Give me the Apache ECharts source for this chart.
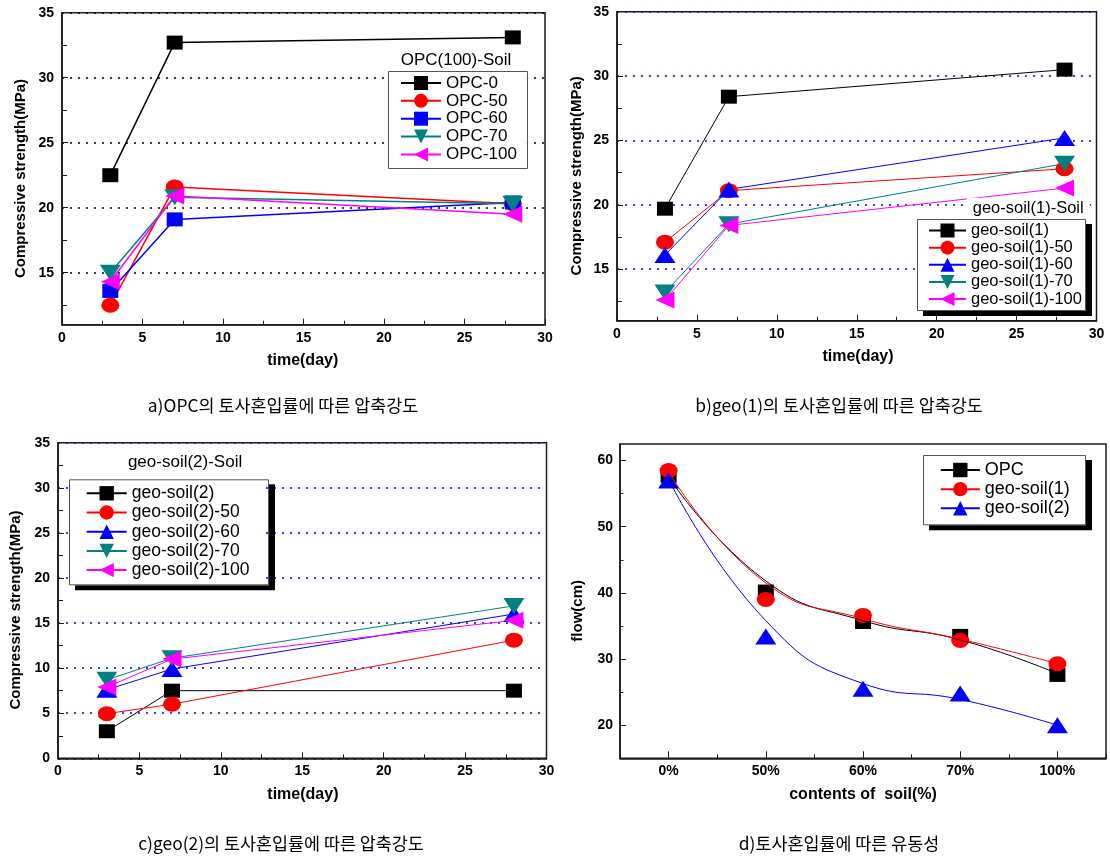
<!DOCTYPE html>
<html><head><meta charset="utf-8">
<script src="https://cdn.jsdelivr.net/npm/echarts@6/dist/echarts.min.js"></script>
<style>html,body{margin:0;padding:0;background:#fff}#c{width:1110px;height:860px}</style>
</head><body><div id="c"></div>
<script>
// ---------- data ----------
const timeDays = [3, 7, 28];
const opcNames = ['OPC-0', 'OPC-50', 'OPC-60', 'OPC-70', 'OPC-100'];
const opc0 = [22.5, 32.7, 33.1];
const opc50 = [12.5, 21.6, 20.3];
const opc60 = [13.6, 19.1, 20.4];
const opc70 = [15.0, 20.8, 20.3];
const opc100 = [14.3, 20.9, 19.5];
const geo1Names = ['geo-soil(1)', 'geo-soil(1)-50', 'geo-soil(1)-60', 'geo-soil(1)-70', 'geo-soil(1)-100'];
const geo1_0 = [19.7, 28.4, 30.5];
const geo1_50 = [17.1, 21.1, 22.8];
const geo1_60 = [16.1, 21.2, 25.2];
const geo1_70 = [13.2, 18.5, 23.2];
const geo1_100 = [12.6, 18.4, 21.3];
const geo2Names = ['geo-soil(2)', 'geo-soil(2)-50', 'geo-soil(2)-60', 'geo-soil(2)-70', 'geo-soil(2)-100'];
const geo2_0 = [3.0, 7.5, 7.5];
const geo2_50 = [4.95, 6.0, 13.1];
const geo2_60 = [7.6, 9.9, 16.0];
const geo2_70 = [8.7, 11.1, 16.9];
const geo2_100 = [7.9, 11.0, 15.3];
const soilContents = ['0%', '50%', '60%', '70%', '100%'];
const flowNames = ['OPC', 'geo-soil(1) ', 'geo-soil(2) '];
const flowOPC = [57.7, 40.2, 35.6, 33.5, 27.6];
const flowGeo1 = [58.5, 39.0, 36.6, 32.8, 29.3];
const flowGeo2 = [57.0, 33.4, 25.5, 24.8, 20.0];
const fitOPC = [57.5, 41.8, 35.8, 32.9, 27.8];
const fitGeo1 = [58.3, 41.5, 36.1, 33.0, 29.3];
const fitGeo2 = [57.2, 35.8, 26.3, 23.9, 20.0];
const timeTicks = [0, 30, 5];
const strengthLabels = [15, 20, 25, 30, 35];
const strengthMinor = [12.5, 17.5, 22.5, 27.5, 32.5];
const flowLabels = [20, 30, 40, 50, 60];
const flowMinor = [25, 35, 45, 55];

// ---------- styles ----------
const FONT = '"Liberation Sans", Arial, sans-serif';
const KFONT = '"Noto Sans CJK KR", sans-serif';
const AX = '#1a1a1a';
const COLORS = ['#000000', '#ff0000', '#0000ff', '#008080', '#ff00ff'];
const SQ = { symbol: 'rect', size: [16, 14], rot: 0 };
const CI = { symbol: 'circle', size: [18, 15], rot: 0 };
const TU = { symbol: 'triangle', size: [21, 16], rot: 0 };
const TD = { symbol: 'triangle', size: [21, 16], rot: 180 };
const TL = { symbol: 'triangle', size: [17, 19], rot: 90 };
const symA = [SQ, CI, SQ, TD, TL];
const symBC = [SQ, CI, TU, TD, TL];

function lineSeries(name, vals, i, sym, xi, yi, w) {
  return {
    type: 'line', name: name, xAxisIndex: xi, yAxisIndex: yi,
    data: timeDays.map((d, k) => [d, vals[k]]),
    symbol: sym.symbol, symbolSize: sym.size, symbolRotate: sym.rot, showSymbol: true,
    lineStyle: { color: COLORS[i], width: w }, itemStyle: { color: COLORS[i] },
    emphasis: { disabled: true }, animation: false
  };
}

function timeAxis(g) {
  return {
    type: 'value', gridIndex: g, min: timeTicks[0], max: timeTicks[1], interval: timeTicks[2],
    axisLine: { show: true, onZero: false, lineStyle: { color: AX, width: 1.5 } },
    axisTick: { show: true, inside: true, length: 6, lineStyle: { color: AX, width: 1 } },
    minorTick: { show: true, splitNumber: 2, length: 4, lineStyle: { color: AX, width: 1 } },
    axisLabel: { fontFamily: FONT, fontWeight: 'bold', fontSize: 14, color: '#000', margin: 6 },
    splitLine: { show: false }
  };
}
function strengthAxis(g, gridColor) {
  return {
    type: 'value', gridIndex: g, min: 11, max: 35, splitNumber: 5,
    axisLine: { show: true, onZero: false, lineStyle: { color: AX, width: 1.5 } },
    axisTick: { show: true, inside: true, length: 6, customValues: strengthLabels, lineStyle: { color: AX, width: 1 } },
    axisLabel: { customValues: strengthLabels, fontFamily: FONT, fontWeight: 'bold', fontSize: 14, color: '#000', margin: 8 },
    splitLine: { show: true, lineStyle: { color: gridColor, type: [2, 6], width: 1.5 } }
  };
}
function minorY(g, min, max, vals, width, len) {
  return {
    type: 'value', gridIndex: g, min: min, max: max, position: 'right', offset: -width,
    axisLine: { show: false, onZero: false },
    axisTick: { show: true, inside: false, length: len, customValues: vals, lineStyle: { color: AX, width: 1 } },
    axisLabel: { show: false }, splitLine: { show: false }
  };
}
function legendBox(names, left, top, pad, iw, ih, fs, gap) {
  return {
    orient: 'vertical', left: left, top: top, padding: pad, itemWidth: iw, itemHeight: ih, itemGap: gap,
    data: names, selectedMode: false, backgroundColor: '#fff', borderWidth: 0, z: 4,
    textStyle: { fontFamily: FONT, fontSize: fs, color: '#000' },
    formatter: n => n.trim()
  };
}
// grey frame of a legend box
function frame(key, x, y, w, h) {
  return { type: 'rect', id: 'frame' + key, z: 50, shape: { x: x + 0.5, y: y + 0.5, width: w, height: h }, style: { fill: 'none', stroke: '#555', lineWidth: 1 } };
}
// solid black drop shadow strips on the right and bottom of a legend box
function strips(key, x, y, w, h, zz) {
  return [
    { type: 'line', id: 'sr' + key, z: zz, shape: { x1: x + w + 4, y1: y + 5, x2: x + w + 4, y2: y + h + 5.5 }, style: { stroke: '#000', lineWidth: 6 } },
    { type: 'line', id: 'sb' + key, z: zz, shape: { x1: x + 6, y1: y + h + 3.5, x2: x + w + 7, y2: y + h + 3.5 }, style: { stroke: '#000', lineWidth: 5 } }
  ];
}
function txt(s, x, y, font, rot, extra) {
  const st = Object.assign({ text: s, font: font, fill: '#000', align: 'center', verticalAlign: 'middle', textAlign: 'center', textVerticalAlign: 'middle' }, extra || {});
  return { type: 'text', x: x, y: y, rotation: rot || 0, z: 100, style: st };
}
const BOLD15 = 'bold 15px ' + FONT;
const BOLD16 = 'bold 16px ' + FONT;
const CAP = '17.4px ' + KFONT;

const gridBase = { show: true, borderColor: AX, borderWidth: 1.5, backgroundColor: 'transparent', containLabel: false, outerBoundsMode: 'none' };

const series = [];
[opc0, opc50, opc60, opc70, opc100].forEach((v, i) => series.push(lineSeries(opcNames[i], v, i, symA[i], 0, 0, 1.5)));
[geo1_0, geo1_50, geo1_60, geo1_70, geo1_100].forEach((v, i) => series.push(lineSeries(geo1Names[i], v, i, symBC[i], 1, 2, 1)));
[geo2_0, geo2_50, geo2_60, geo2_70, geo2_100].forEach((v, i) => series.push(lineSeries(geo2Names[i], v, i, symBC[i], 2, 4, 1)));
const flowSym = [SQ, CI, TU];
const flowCol = [COLORS[0], COLORS[1], COLORS[2]];
[fitOPC, fitGeo1, fitGeo2].forEach((v, i) => series.push({
  type: 'line', name: flowNames[i], xAxisIndex: 3, yAxisIndex: 5, data: v, smooth: 0.5,
  symbol: flowSym[i].symbol, symbolSize: flowSym[i].size, showSymbol: false,
  lineStyle: { color: flowCol[i], width: 1 }, itemStyle: { color: flowCol[i] },
  emphasis: { disabled: true }, animation: false
}));
[flowOPC, flowGeo1, flowGeo2].forEach((v, i) => series.push({
  type: 'scatter', name: flowNames[i].trim() + ' data', xAxisIndex: 3, yAxisIndex: 5,
  data: soilContents.map((c, k) => [c, v[k]]),
  symbol: flowSym[i].symbol, symbolSize: flowSym[i].size, itemStyle: { color: flowCol[i], opacity: 1 },
  emphasis: { disabled: true }, animation: false
}));

const option = {
  animation: false,
  backgroundColor: '#fff',
  grid: [
    Object.assign({ left: 62, top: 12.7, width: 483, height: 312 }, gridBase),
    Object.assign({ left: 617, top: 11.7, width: 479.5, height: 309 }, gridBase),
    Object.assign({ left: 58, top: 442.7, width: 488.5, height: 315.6 }, gridBase),
    Object.assign({ left: 620, top: 444, width: 486, height: 314.3 }, gridBase)
  ],
  xAxis: [
    timeAxis(0), timeAxis(1), timeAxis(2),
    {
      type: 'category', gridIndex: 3, data: soilContents, boundaryGap: true,
      axisLine: { show: true, onZero: false, lineStyle: { color: AX, width: 1.5 } },
      axisTick: { show: true, inside: true, alignWithLabel: true, length: 7, lineStyle: { color: AX, width: 1 } },
      axisLabel: { fontFamily: FONT, fontWeight: 'bold', fontSize: 14, color: '#000', margin: 6 },
      splitLine: { show: false }
    },
    {
      type: 'category', gridIndex: 3, data: soilContents, boundaryGap: true, position: 'top', offset: -314.3,
      axisLine: { show: false, onZero: false },
      axisTick: { show: true, inside: false, alignWithLabel: false, length: 4, lineStyle: { color: AX, width: 1 } },
      axisLabel: { show: false }, splitLine: { show: false }
    }
  ],
  yAxis: [
    strengthAxis(0, '#000'),
    minorY(0, 11, 35, strengthMinor, 483, 5),
    strengthAxis(1, '#0000ff'),
    minorY(1, 11, 35, strengthMinor, 479.5, 5),
    {
      type: 'value', gridIndex: 2, min: 0, max: 35, interval: 5,
      axisLine: { show: true, onZero: false, lineStyle: { color: AX, width: 1.5 } },
      axisTick: { show: true, inside: true, length: 6, lineStyle: { color: AX, width: 1 } },
      minorTick: { show: true, splitNumber: 2, length: 5, lineStyle: { color: AX, width: 1 } },
      axisLabel: { fontFamily: FONT, fontWeight: 'bold', fontSize: 14, color: '#000', margin: 8 },
      splitLine: { show: true, lineStyle: { color: '#0000ff', type: [2, 6], width: 1.5 } }
    },
    {
      type: 'value', gridIndex: 3, min: 15, max: 62.5,
      axisLine: { show: true, onZero: false, lineStyle: { color: AX, width: 1.5 } },
      axisTick: { show: true, inside: true, length: 6, customValues: flowLabels, lineStyle: { color: AX, width: 1 } },
      axisLabel: { customValues: flowLabels, fontFamily: FONT, fontWeight: 'bold', fontSize: 14, color: '#000', margin: 7 },
      splitLine: { show: false }
    },
    minorY(3, 15, 62.5, flowMinor, 486, 3.5)
  ],
  legend: [
    legendBox(opcNames, 388, 71, [3.5, 10, 2.5, 12], 40, 17.5, 17, 0.85),
    legendBox(geo1Names, 917, 219, [3, 4, 0, 11], 37, 17.5, 16.5, 0.15),
    legendBox(geo2Names, 69, 479.3, [5, 16, 5.2, 16.7], 40, 18, 17.5, 1.2),
    legendBox(flowNames, 923, 455, [6, 16, 7, 16.8], 39, 18, 18, 1.15)
  ],
  graphic: { elements: [].concat(
    strips('d', 923, 455, 162, 69.3, 60),
    strips('b', 917, 219, 168, 91, 49),
    strips('c', 69, 479.3, 199, 105, 49),
    [frame('a', 388, 71, 139, 97), frame('b', 917, 219, 168, 91), frame('c', 69, 479.3, 199, 105), frame('d', 923, 455, 162, 69.3)],
    [
    txt('OPC(100)-Soil', 400.7, 60, '17px ' + FONT, 0, { align: 'left', textAlign: 'left' }),
    txt('geo-soil(1)-Soil', 966.7, 208.3, '16.5px ' + FONT, 0, { align: 'left', textAlign: 'left', backgroundColor: '#fff', padding: [2, 6, 2, 6] }),
    txt('geo-soil(2)-Soil', 127.9, 462.7, '17px ' + FONT, 0, { align: 'left', textAlign: 'left' }),
    txt('Compressive strength(MPa)', 20.4, 178.5, BOLD15, Math.PI / 2),
    txt('Compressive strength(MPa)', 576.4, 175.8, BOLD15, Math.PI / 2),
    txt('Compressive strength(MPa)', 16, 610, BOLD15, Math.PI / 2),
    txt('flow(cm)', 578, 610.8, BOLD15, Math.PI / 2),
    txt('time(day)', 302.7, 361, BOLD16),
    txt('time(day)', 858, 356.7, BOLD16),
    txt('time(day)', 302.9, 795, BOLD16),
    txt('contents of  soil(%)', 863, 795, BOLD16),
    txt('a)OPC의 토사혼입률에 따른 압축강도', 283, 405, CAP),
    txt('b)geo(1)의 토사혼입률에 따른 압축강도', 839, 405, CAP),
    txt('c)geo(2)의 토사혼입률에 따른 압축강도', 281, 843, CAP),
    txt('d)토사혼입률에 따른 유동성', 839, 843, CAP)
  ]) },
  series: series
};
const chart = echarts.init(document.getElementById('c'), null, { renderer: 'canvas' });
chart.setOption(option);
</script></body></html>
